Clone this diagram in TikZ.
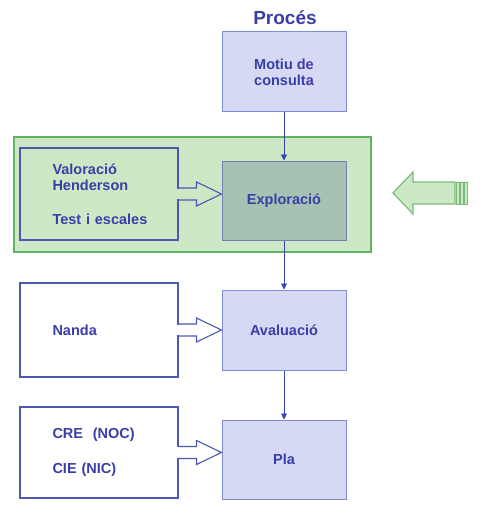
\documentclass[tikz,border=0pt]{standalone}
\usepackage{fontspec}
\setmainfont{Liberation Sans}
\usepackage{xcolor}
\usepackage{tikz}
\usetikzlibrary{arrows.meta,positioning,calc,backgrounds}

\definecolor{procblue}{HTML}{3A3EA8}
\definecolor{boxline}{HTML}{7F8AD8}
\definecolor{sideline}{HTML}{4A58B2}
\definecolor{lavender}{HTML}{D6D9F3}
\definecolor{bandfill}{HTML}{CDE8C5}
\definecolor{bandline}{HTML}{62B062}
\definecolor{explofill}{HTML}{A6C2B2}
\definecolor{arrowline}{HTML}{3446B0}

\begin{document}
\begin{tikzpicture}[
  x=1pt, y=-1pt,
  font=\bfseries\fontsize{14.5}{16}\selectfont,
  stepbox/.style={draw=boxline, line width=1pt, fill=lavender, text=procblue,
                  align=center, minimum width=124pt, minimum height=80pt},
  side/.style={draw=sideline, line width=1.2pt, fill=white, text=procblue,
               align=left, text width=93pt, minimum width=158pt},
  band/.style={draw=bandline, line width=1.3pt, fill=bandfill},
  ar/.style={-{Triangle[length=6pt, width=6pt]}, arrowline, line width=0.9pt},
  fatar/.style={draw=sideline, line width=1.1pt, line join=miter},
]
\useasboundingbox (0,0) rectangle (500,513);

% ---------------- title and process column ----------------
\node[text=procblue, font=\bfseries\fontsize{19}{22}\selectfont] (title) at (285,18) {Procés};
\node[stepbox] (motiu) at (284,72) {Motiu de\\consulta};
\node[stepbox, fill=explofill, draw=boxline!80!black!90, minimum height=79pt] (explo) at (284,200.5) {Exploració};
\node[stepbox] (aval) at (284,330) {Avaluació};
\node[stepbox, minimum height=79pt] (pla) at (284,459.5) {Pla};

\draw[ar] (motiu) -- (explo);
\draw[ar] (explo) -- (aval);
\draw[ar] (aval) -- (pla);

% ---------------- inputs on the left ----------------
\node[side, fill=bandfill, minimum height=92pt] (val) at (99,194)
  {Valoració\\Henderson\\[18pt]\mbox{Test i escales}};
\node[side, minimum height=94pt] (nanda) at (99,330) {Nanda};
\node[side, minimum height=91pt] (cre) at (99,452.5)
  {CRE\ \ (NOC)\\[19pt]CIE (NIC)};

% block arrows into the process column
\foreach \src/\dst/\bg in {val/explo/bandfill, nanda/aval/white, cre/pla/white} {
  \fill[\bg] ($(\src.east)+(-1.5,-5.4)$) rectangle ($(\dst.west |- \src.east)+(-25,5.4)$);
  \fill[\bg] ($(\dst.west |- \src.east)+(-25,-12)$) -- (\dst.west |- \src.east)
    -- ($(\dst.west |- \src.east)+(-25,12)$) -- cycle;
  \draw[fatar] ($(\src.east)+(0,-6)$) -- ($(\dst.west |- \src.east)+(-25,-6)$)
    -- ++(0,-6) -- (\dst.west |- \src.east) -- ($(\dst.west |- \src.east)+(-25,12)$)
    -- ++(0,-6) -- ($(\src.east)+(0,6)$);
}

% ---------------- green band and side arrow ----------------
\begin{scope}[on background layer]
  \node[band, minimum width=357pt, minimum height=115pt] (zona) at (192.5,194.5) {};
\end{scope}

\draw[draw=bandline!85, fill=bandfill, line width=1.2pt, line join=miter]
  (393,193) -- (413,172) -- (413,182) -- (455,182) -- (455,204)
  -- (413,204) -- (413,214) -- cycle;
\foreach \xa in {456.5,460.5,464.5}
  \draw[draw=bandline!85, fill=bandfill, line width=0.8pt] (\xa,182) rectangle ++(2.5,22);
\end{tikzpicture}
\end{document}
